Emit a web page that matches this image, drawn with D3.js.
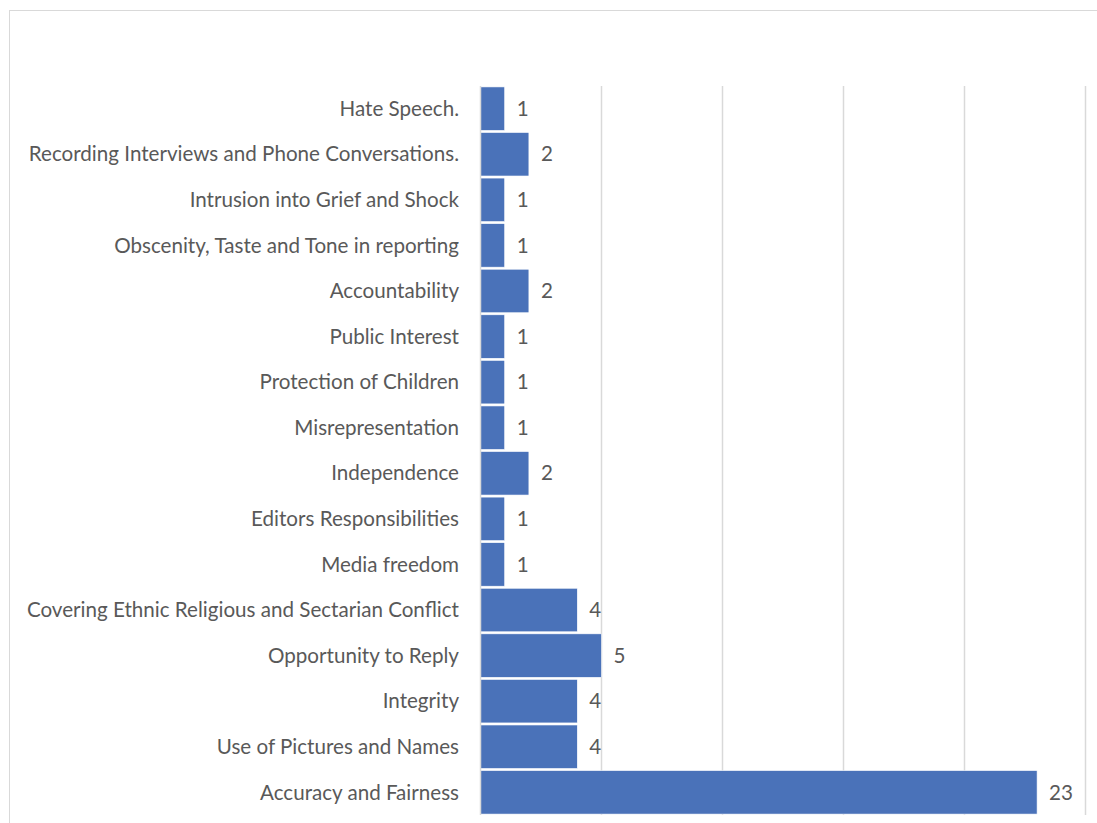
<!DOCTYPE html>
<html><head><meta charset="utf-8">
<script src="https://cdn.jsdelivr.net/npm/d3@7"></script>
<style>body{margin:0;background:#fff;}svg{display:block;}</style>
</head><body>
<svg id="c" width="1097" height="823"></svg>
<script>
const categories = [
  "Hate Speech.",
  "Recording Interviews and Phone Conversations.",
  "Intrusion into Grief and Shock",
  "Obscenity, Taste and Tone in reporting",
  "Accountability",
  "Public Interest",
  "Protection of Children",
  "Misrepresentation",
  "Independence",
  "Editors Responsibilities",
  "Media freedom",
  "Covering Ethnic Religious and Sectarian Conflict",
  "Opportunity to Reply",
  "Integrity",
  "Use of Pictures and Names",
  "Accuracy and Fairness"
];
const values = [1,2,1,1,2,1,1,1,2,1,1,4,5,4,4,23];
const gridTicks = [5,10,15,20,25];

const svg = d3.select("#c");
const font = "Lato, 'Open Sans', sans-serif";
const fs = 20.6;

// chart border
svg.append("rect").attr("x",9.5).attr("y",10.5).attr("width",1200).attr("height",1000)
  .attr("fill","none").attr("stroke","#d9d9d9").attr("stroke-width",1);

const x = d3.scaleLinear().domain([0,25]).range([480.5,1085.5]);
const y = d3.scaleBand().domain(categories).range([86,815]).paddingInner(0.045).paddingOuter(0.02);

// gridlines
svg.append("g").selectAll("line").data(gridTicks).join("line")
  .attr("x1",d=>x(d)).attr("x2",d=>x(d)).attr("y1",86).attr("y2",815)
  .attr("stroke","#d9d9d9").attr("stroke-width",1.5);

// bars
svg.append("g").selectAll("rect").data(values).join("rect")
  .attr("x",x(0)).attr("y",(d,i)=>y(categories[i]))
  .attr("width",d=>x(d)-x(0)).attr("height",y.bandwidth())
  .attr("fill","#4A72B9").attr("stroke","#ffffff").attr("stroke-width",0.6);

// axis line
svg.append("line").attr("x1",x(0)).attr("x2",x(0)).attr("y1",86).attr("y2",815)
  .attr("stroke","#d9d9d9").attr("stroke-width",1.5);

// category labels
svg.append("g").selectAll("text").data(categories).join("text")
  .attr("x",459).attr("y",d=>y(d)+y.bandwidth()/2).attr("dy","0.35em")
  .attr("text-anchor","end").attr("font-family",font).attr("font-size",fs)
  .attr("fill","#595959").text(d=>d);

// value labels
svg.append("g").selectAll("text").data(values).join("text")
  .attr("x",d=>x(d)+12).attr("y",(d,i)=>y(categories[i])+y.bandwidth()/2).attr("dy","0.35em")
  .attr("font-family",font).attr("font-size",fs)
  .attr("fill","#595959").text(d=>d);
</script>
</body></html>
